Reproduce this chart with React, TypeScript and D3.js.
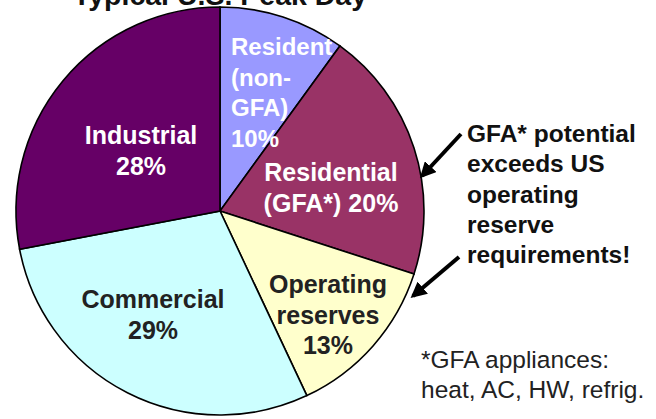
import React from "react";
import * as d3 from "d3";

const categories = ["Resident (non-GFA)", "Residential (GFA*)", "Operating reserves", "Commercial", "Industrial"];
const values = [10, 20, 13, 29, 28];
const colors = ["#9999FF", "#993366", "#FFFFCC", "#CCFFFF", "#660066"];
const labelLines = [
  ["Resident", "(non-", "GFA)", "10%"],
  ["Residential", "(GFA*) 20%"],
  ["Operating", "reserves", "13%"],
  ["Commercial", "29%"],
  ["Industrial", "28%"],
];
const labelColors = ["#ffffff", "#ffffff", "#222222", "#222222", "#ffffff"];
const title = "Typical U.S. Peak Day";
const noteLines = ["GFA* potential", "exceeds US", "operating", "reserve", "requirements!"];
const footLines = ["*GFA appliances:", "heat, AC, HW, refrig."];

const W = 656;
const H = 419;
const cx = 220;
const cy = 211;
const R = 204;

// label anchors relative to pie centre (layout only)
const labelPos: { dx: number; dy: number; anchor: "start" | "middle"; size: number }[] = [
  { dx: 11, dy: -156, anchor: "start", size: 24 },
  { dx: 111, dy: -30, anchor: "middle", size: 25 },
  { dx: 108, dy: 82, anchor: "middle", size: 25 },
  { dx: -67, dy: 97, anchor: "middle", size: 25 },
  { dx: -79, dy: -67, anchor: "middle", size: 25 },
];

export default function App() {
  const pie = d3.pie<number>().sort(null).value((d) => d).startAngle(0).endAngle(2 * Math.PI);
  const arcs = pie(values);
  const arc = d3.arc<d3.PieArcDatum<number>>().innerRadius(0).outerRadius(R);
  const font = "'Liberation Sans', Arial, sans-serif";
  const lh = 30.5;

  return (
    <svg
      width={W}
      height={H}
      style={{ position: "absolute", left: 0, top: 0, background: "#fff" }}
      fontFamily={font}
    >
      <defs>
        <marker id="ah" viewBox="0 0 10 10" refX="8" refY="5" markerWidth="4" markerHeight="4" orient="auto">
          <path d="M0,0 L10,5 L0,10 z" fill="#000" />
        </marker>
      </defs>
      <rect width={W} height={H} fill="#fff" />
      <text x={220} y={5} textAnchor="middle" fontSize={28.5} fontWeight="bold" fill="#111">
        {title}
      </text>
      <g transform={`translate(${cx},${cy})`}>
        {arcs.map((a, i) => (
          <path key={categories[i]} d={arc(a) || ""} fill={colors[i]} stroke="#000" strokeWidth={1.6} />
        ))}
        {labelLines.map((lines, i) => (
          <text
            key={i}
            x={labelPos[i].dx}
            y={labelPos[i].dy}
            textAnchor={labelPos[i].anchor}
            fontSize={labelPos[i].size}
            fontWeight="bold"
            fill={labelColors[i]}
          >
            {lines.map((l, j) => (
              <tspan key={j} x={labelPos[i].dx} dy={j === 0 ? 0 : lh}>
                {l}
              </tspan>
            ))}
          </text>
        ))}
      </g>
      <text x={467} y={142} fontSize={24.5} fontWeight="bold" fill="#111">
        {noteLines.map((l, j) => (
          <tspan key={j} x={467} dy={j === 0 ? 0 : 30.3}>
            {l}
          </tspan>
        ))}
      </text>
      <line x1={461} y1={134} x2={422} y2={176} stroke="#000" strokeWidth={4} markerEnd="url(#ah)" />
      <line x1={459} y1={257} x2={413} y2={296} stroke="#000" strokeWidth={4} markerEnd="url(#ah)" />
      <text x={421} y={368} fontSize={24.5} fill="#222">
        {footLines.map((l, j) => (
          <tspan key={j} x={421} dy={j === 0 ? 0 : 30}>
            {l}
          </tspan>
        ))}
      </text>
    </svg>
  );
}
